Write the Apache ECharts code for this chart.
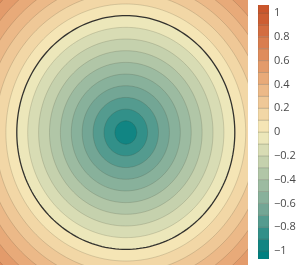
<!DOCTYPE html>
<html>
<head>
<meta charset="utf-8">
<script src="https://cdn.jsdelivr.net/npm/echarts@6/dist/echarts.min.js"></script>
<style>html,body{margin:0;padding:0;background:#fff}#c{width:299px;height:265px}</style>
</head>
<body>
<div id="c"></div>
<script>
// Contour levels (z value of each ring) and ring radius in data units
const contourLevels = [-0.9, -0.8, -0.7, -0.6, -0.5, -0.4, -0.3, -0.2, -0.1, 0, 0.1, 0.2, 0.3, 0.4, 0.5, 0.6, 0.7, 0.8];
const ringRadii     = [0.1, 0.2, 0.3, 0.4, 0.5, 0.6, 0.7, 0.8, 0.9, 1.0, 1.1, 1.2, 1.3, 1.4, 1.5, 1.6, 1.7, 1.8];
const levelStep = 0.1;
const highlightLevel = 0;
// Colorbar band boundaries
const colorbarBands = [-1.1, -1, -0.9, -0.8, -0.7, -0.6, -0.5, -0.4, -0.3, -0.2, -0.1, 0, 0.1, 0.2, 0.3, 0.4, 0.5, 0.6, 0.7, 0.8, 0.9, 1, 1.1];
const colorbarTicks = [-1, -0.8, -0.6, -0.4, -0.2, 0, 0.2, 0.4, 0.6, 0.8, 1];
const xRange = [-1.154, 1.121];
const yRange = [-1.134, 1.134];
const geyser = ['rgb(0,128,128)', 'rgb(112,164,148)', 'rgb(180,200,168)', 'rgb(246,237,189)', 'rgb(237,187,138)', 'rgb(222,138,90)', 'rgb(202,86,44)'];

const clamp = v => Math.max(-1, Math.min(1, v));
const rings = contourLevels.map((l, i) => [l, ringRadii[i], clamp(l - levelStep / 2)])
  .sort((a, b) => b[1] - a[1]);
const bands = [];
for (let i = 0; i < colorbarBands.length - 1; i++) {
  const lo = colorbarBands[i], hi = colorbarBands[i + 1];
  bands.push([lo, hi, clamp((lo + hi) / 2)]);
}

const chart = echarts.init(document.getElementById('c'), null, {renderer: 'canvas'});
chart.setOption({
  animation: false,
  grid: [
    {left: 0, top: 0, width: 248, height: 265},
    {left: 258, top: 5, width: 11, height: 254}
  ],
  xAxis: [
    {gridIndex: 0, type: 'value', min: xRange[0], max: xRange[1], show: false},
    {gridIndex: 1, type: 'value', min: 0, max: 1, show: false}
  ],
  yAxis: [
    {gridIndex: 0, type: 'value', min: yRange[0], max: yRange[1], show: false},
    {gridIndex: 1, type: 'value', min: -1.0667, max: 1.0667, position: 'right',
      axisLine: {show: false}, axisTick: {show: false}, splitLine: {show: false},
      axisLabel: {customValues: colorbarTicks, margin: 5, color: '#4a4a4a', fontSize: 11,
        fontFamily: 'Open Sans',
        formatter: v => String(Math.round(v * 10) / 10).replace('-', '\u2212')}}
  ],
  visualMap: {
    show: false, type: 'continuous', min: -1, max: 1, dimension: 2,
    seriesIndex: [0, 1], inRange: {color: geyser}
  },
  series: [
    {
      type: 'custom', xAxisIndex: 0, yAxisIndex: 0, clip: true,
      data: rings,
      renderItem: function (params, api) {
        const lvl = api.value(0), r = api.value(1);
        const pts = [];
        for (let k = 0; k < 200; k++) {
          const a = k / 200 * Math.PI * 2;
          pts.push(api.coord([r * Math.cos(a), r * Math.sin(a)]));
        }
        const hl = Math.abs(lvl - highlightLevel) < 1e-9;
        return {
          type: 'polygon', shape: {points: pts},
          style: {fill: api.visual('color'),
            stroke: hl ? 'rgba(30,30,30,0.9)' : 'rgba(60,60,40,0.22)',
            lineWidth: hl ? 1.3 : 0.8}
        };
      }
    },
    {
      type: 'custom', xAxisIndex: 1, yAxisIndex: 1, clip: true,
      data: bands,
      renderItem: function (params, api) {
        const p1 = api.coord([0, api.value(1)]);
        const p2 = api.coord([1, api.value(0)]);
        return {
          type: 'rect',
          shape: {x: p1[0], y: p1[1], width: p2[0] - p1[0], height: p2[1] - p1[1]},
          style: {fill: api.visual('color'), stroke: 'rgba(60,60,40,0.22)', lineWidth: 0.8}
        };
      }
    }
  ]
});
</script>
</body>
</html>
